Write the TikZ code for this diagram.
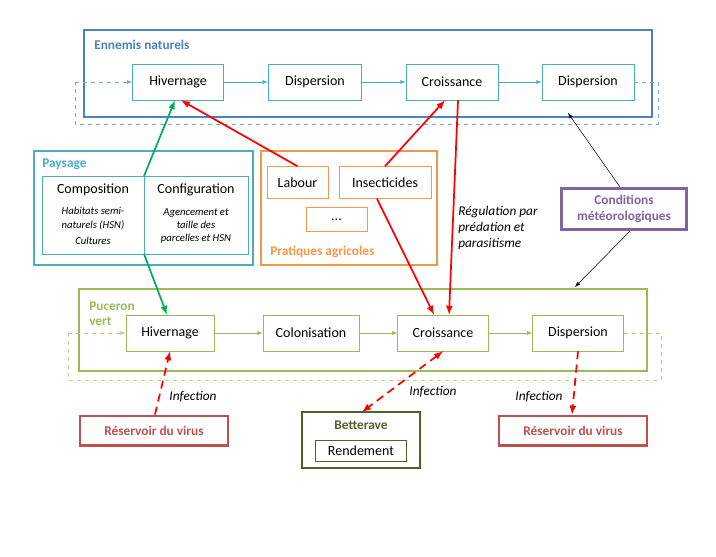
\documentclass[tikz,border=0pt]{standalone}
\usepackage{fontspec}
\setmainfont{Carlito}
\usetikzlibrary{calc}
\begin{document}
\begin{tikzpicture}[x=0.75pt,y=-0.75pt,
 fr/.style={draw=#1,line width=2pt},
 bx/.style={draw=#1,fill=white,minimum height=27pt,inner sep=1pt,font=\fontsize{10.5}{12}\selectfont},
 ti/.style={font=\bfseries\fontsize{10}{11.5}\selectfont,text=#1,anchor=west,inner sep=0pt},
 it/.style={font=\itshape\fontsize{10}{12}\selectfont,inner sep=0pt},
 flow/.style={draw=#1,->},
 ra/.style={red,line width=1.3pt},
 rd/.style={red,line width=1.3pt,dash pattern=on 6pt off 4pt},
 >=latex]
\definecolor{eb}{HTML}{4F81BD}\definecolor{ebl}{HTML}{4BACC6}
\definecolor{pg}{HTML}{9BBB59}\definecolor{po}{HTML}{F79646}
\definecolor{pp}{HTML}{8064A2}\definecolor{rr}{HTML}{C0504D}
\definecolor{dg}{HTML}{4F6228}\definecolor{gn}{HTML}{00B050}
\useasboundingbox (0,0) rectangle (716,556);
% Ennemis
\draw[fr=eb] (84,30) rectangle (652,117);
\node[ti=eb] (te) at (94,45) {Ennemis naturels};
\node[bx=ebl,minimum width=68pt] (e1) at (178,82) {Hivernage};
\node[bx=ebl,minimum width=70pt] (e2) at (315,82) {Dispersion};
\node[bx=ebl,minimum width=69pt] (e3) at (452,82) {Croissance};
\node[bx=ebl,minimum width=69pt] (e4) at (588,82) {Dispersion};
\draw[eb!70,dashed] (e4.east) -- (658,82) -- (658,124) -- (75,124) -- (75,82) edge[->] (e1.west);
\draw[flow=ebl] (e1) -- (e2); \draw[flow=ebl] (e2) -- (e3); \draw[flow=ebl] (e3) -- (e4);
% Paysage
\draw[fr=ebl] (34,151) rectangle (253,265);
\node[ti=ebl] (tp) at (42,164) {Paysage};
\draw[ebl] (42,176) rectangle (248,254);
\coordinate (dv1) at (144,176); \coordinate (dv2) at (144,254);
\draw[ebl] (dv1) -- (dv2);
\node[font=\fontsize{10.5}{12}\selectfont] (comp) at (93,190) {Composition};
\node[it,font=\itshape\fontsize{8}{10}\selectfont,align=center] (compt) at (93,226) {Habitats semi-\\naturels (HSN)\\[2pt]Cultures};
\node[font=\fontsize{10.5}{12}\selectfont] (conf) at (196,190) {Configuration};
\node[it,font=\itshape\fontsize{8}{10}\selectfont,align=center] (conft) at (196,226) {Agencement et\\taille des\\parcelles et HSN};
% Pratiques
\draw[fr=po] (261,151) rectangle (437,265);
\node[bx=po,minimum width=46pt,minimum height=24pt] (lab) at (297.5,182.5) {Labour};
\node[bx=po,minimum width=69pt,minimum height=24pt] (ins) at (385,182.5) {Insecticides};
\node[bx=po,minimum width=46pt,minimum height=18pt] (dots) at (336.5,219.5) {...};
\node[ti=po] (tpa) at (270,252) {Pratiques agricoles};
% Conditions
\node[draw=pp,line width=2pt,minimum width=94pt,minimum height=31pt,align=center,text=pp,font=\bfseries\fontsize{10}{11.5}\selectfont] (cm) at (624,209) {Conditions\\météorologiques};
% Puceron
\draw[fr=pg] (79,289) rectangle (647,371);
\node[ti=pg,align=left] (tpu) at (89,314) {Puceron\\vert};
\node[bx=pg,minimum width=66pt] (p1) at (170,333) {Hivernage};
\node[bx=pg,minimum width=72pt] (p2) at (311,333) {Colonisation};
\node[bx=pg,minimum width=68pt] (p3) at (443,333) {Croissance};
\node[bx=pg,minimum width=68pt] (p4) at (578,333) {Dispersion};
\draw[pg!70,dashed] (p4.east) -- (661,333) -- (661,380) -- (68,380) -- (68,333) edge[->] (p1.west);
\draw[flow=pg] (p1) -- (p2); \draw[flow=pg] (p2) -- (p3); \draw[flow=pg] (p3) -- (p4);
% bottom
\node[draw=rr,line width=2pt,minimum width=111pt,minimum height=22pt,text=rr,font=\bfseries\fontsize{10}{11.5}\selectfont] (r1) at (154,430.5) {Réservoir du virus};
\node[draw=rr,line width=2pt,minimum width=111pt,minimum height=22pt,text=rr,font=\bfseries\fontsize{10}{11.5}\selectfont] (r2) at (573,430.5) {Réservoir du virus};
\draw[draw=dg,line width=2pt] (302,412) rectangle (420,468);
\coordinate (btop) at (362,412);
\node[ti=dg,anchor=center] (bt) at (361,425) {Betterave};
\node[draw=dg,minimum width=68pt,minimum height=16pt,inner sep=1pt,font=\fontsize{10.5}{12}\selectfont] (rd) at (361,450.5) {Rendement};
% arrows
\draw[gn,line width=1.3pt,->] (dv1) -- ($(e1.south)+(-3,0)$);
\draw[gn,line width=1.3pt,->] (dv2) -- ($(p1.north)+(-3,0)$);
\draw[ra,->] (lab.north) -- ($(e1.south)+(3,0)$);
\draw[ra,->] (ins.north) -- ($(e3.south)+(-7,0)$);
\draw[ra,->] ($(e3.south)+(6,0)$) -- ($(p3.north)+(6,0)$);
\draw[ra,->] ($(ins.south)+(-8,0)$) -- ($(p3.north)+(-9,0)$);
\node[it,align=left,anchor=north west] (reg) at (458,206) {Régulation par\\prédation et\\parasitisme};
\draw[->] ($(cm.north)+(-4,0)$) -- (568,113);
\draw[->] ($(cm.south)+(6,0)$) -- (575,287);
\draw[rd,->] ($(r1.north)+(1,0)$) -- (p1.south);
\draw[rd,<->] (p3.south) -- (btop);
\draw[rd,->] (p4.south) -- ($(r2.north)+(-1,0)$);
\node[it] (i1) at (193,397) {Infection};
\node[it] (i2) at (433,392) {Infection};
\node[it] (i3) at (539,397) {Infection};
\end{tikzpicture}
\end{document}
